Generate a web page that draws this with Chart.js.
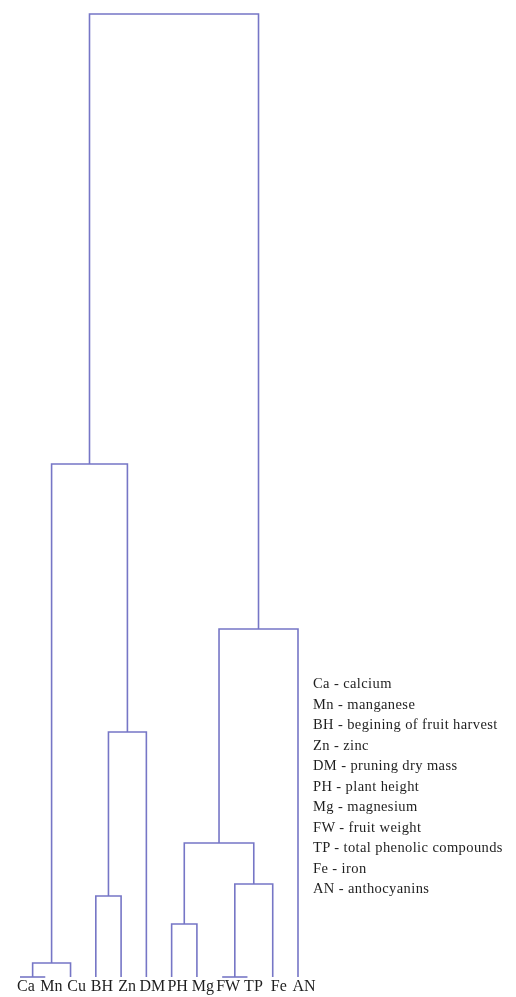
<!DOCTYPE html>
<html>
<head>
<meta charset="utf-8">
<script src="https://cdn.jsdelivr.net/npm/chart.js@4.4.0/dist/chart.umd.min.js"></script>
<style>
  html, body { margin: 0; padding: 0; background: #ffffff; }
  #wrap { position: relative; width: 516px; height: 997px; }
  #tree { position: absolute; left: 0; top: 0; }
  #glossary {
    position: absolute; left: 313px; top: 673px;
    font-family: "Liberation Serif", "DejaVu Serif", serif;
    font-size: 14.5px; line-height: 20.5px; letter-spacing: 0.4px; color: #1e1e1e;
    white-space: nowrap;
  }
</style>
</head>
<body>
<div id="wrap">
  <canvas id="tree" width="516" height="997"></canvas>
  <div id="glossary"></div>
</div>
<script>
// Leaf order along the bottom of the dendrogram
const leafLabels = ['Ca', 'Mn', 'Cu', 'BH', 'Zn', 'DM', 'PH', 'Mg', 'FW', 'TP', 'Fe', 'AN'];

// Agglomeration steps: node ids 0..11 are leaves, step k creates node 12 + k
const mergeLeft   = [0, 8, 12, 6, 3, 13, 15, 16, 18, 14, 21];
const mergeRight  = [1, 9, 2, 7, 4, 10, 17, 5, 11, 19, 20];
const mergeHeight = [0, 0, 14, 53, 81, 93, 134, 245, 348, 513, 963];

// Abbreviation glossary shown to the right
const glossaryCodes = ['Ca', 'Mn', 'BH', 'Zn', 'DM', 'PH', 'Mg', 'FW', 'TP', 'Fe', 'AN'];
const glossaryNames = ['calcium', 'manganese', 'begining of fruit harvest', 'zinc', 'pruning dry mass',
  'plant height', 'magnesium', 'fruit weight', 'total phenolic compounds', 'iron', 'anthocyanins'];

// Node positions: leaves sit at their index, clusters at the mean of their children
const nodeX = leafLabels.map((_, i) => i);
const nodeH = leafLabels.map(() => 0);
const links = [];
mergeLeft.forEach((l, k) => {
  const r = mergeRight[k], h = mergeHeight[k];
  links.push([
    { x: nodeX[l], y: nodeH[l] },
    { x: nodeX[l], y: h },
    { x: nodeX[r], y: h },
    { x: nodeX[r], y: nodeH[r] }
  ]);
  nodeX.push((nodeX[l] + nodeX[r]) / 2);
  nodeH.push(h);
});

const lineColor = '#7676c6';

new Chart(document.getElementById('tree'), {
  type: 'line',
  data: {
    datasets: links.map(pts => ({
      data: pts,
      borderColor: lineColor,
      borderWidth: 1.6,
      pointRadius: 0,
      tension: 0,
      fill: false,
      clip: false
    }))
  },
  options: {
    responsive: false,
    animation: false,
    layout: { padding: { left: 20, right: 218, top: 14, bottom: 0 } },
    plugins: { legend: { display: false }, tooltip: { enabled: false } },
    scales: {
      x: {
        type: 'linear', min: 0, max: leafLabels.length - 1,
        grid: { display: false, drawTicks: false },
        border: { display: false },
        afterBuildTicks: s => { s.ticks = leafLabels.map((_, i) => ({ value: i })); },
        afterFit: s => { s.height = 20; },
        ticks: {
          autoSkip: false, maxRotation: 0, minRotation: 0, padding: 0,
          labelOffset: 6,
          color: '#1e1e1e',
          font: { family: '"Liberation Serif", serif', size: 16 },
          callback: v => leafLabels[v]
        }
      },
      y: {
        type: 'linear', min: 0, max: mergeHeight[mergeHeight.length - 1],
        display: false
      }
    }
  }
});

document.getElementById('glossary').innerHTML =
  glossaryCodes.map((c, i) => '<div>' + c + ' - ' + glossaryNames[i] + '</div>').join('');
</script>
</body>
</html>
